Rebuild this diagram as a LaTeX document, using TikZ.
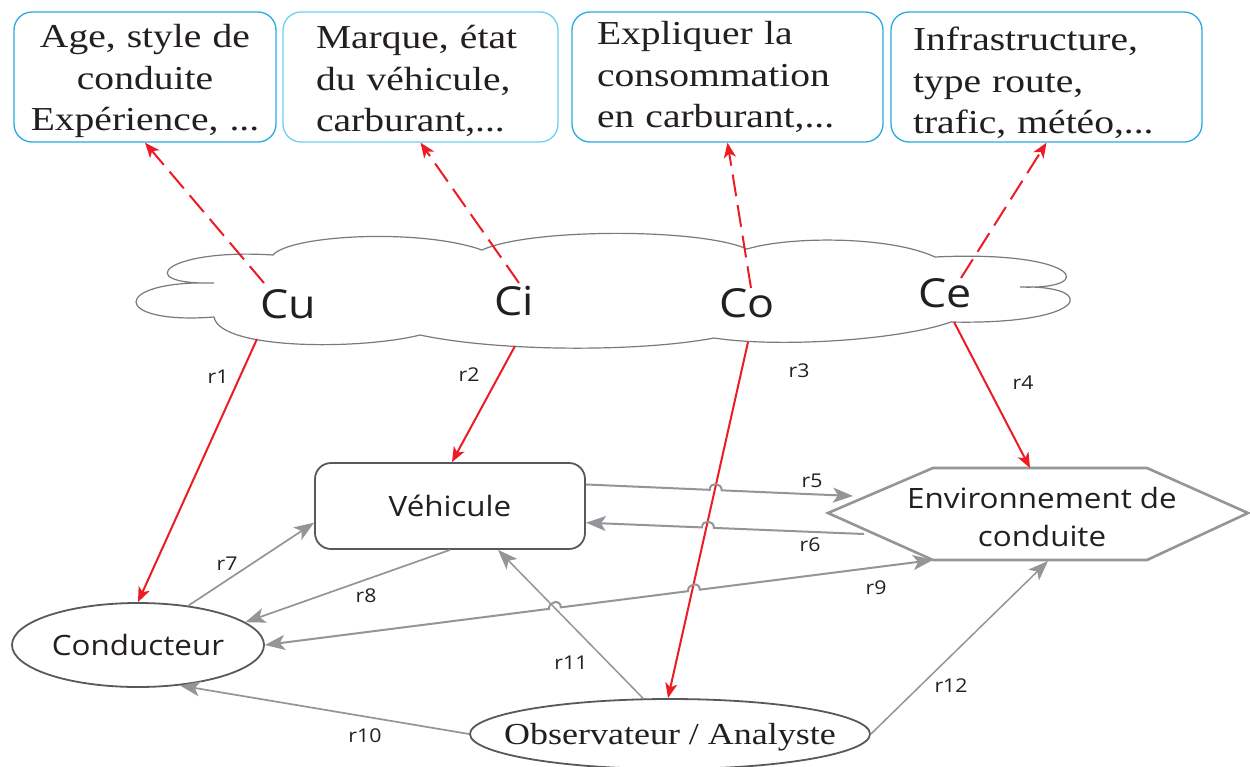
\documentclass[tikz,border=0pt]{standalone}
\usepackage{fontspec}
\setmainfont{Liberation Serif}[FakeStretch=1.18]
\newfontfamily\sansfam{Open Sans}[FakeStretch=1.12]
\usetikzlibrary{arrows.meta,calc,shapes.geometric}
\definecolor{redc}{HTML}{ED1C24}
\definecolor{grayc}{HTML}{939598}
\definecolor{darkc}{HTML}{58595B}
\definecolor{cyanc}{HTML}{29ABE2}
\definecolor{cyanl}{HTML}{6DCFF6}
\definecolor{textc}{HTML}{231F20}
\definecolor{cloudc}{HTML}{7A7A7A}
\newcommand{\topstrut}{\rule{0pt}{32pt}}
\begin{document}
\begin{tikzpicture}[x=1pt,y=-1pt,
  topbox/.style={draw=cyanc,line width=1.3pt,rounded corners=18pt,minimum height=130pt,
    inner sep=0pt,text=textc,font=\fontsize{33.5}{41.5}\selectfont},
  sanstext/.style={text=textc,font=\sansfam\fontsize{28}{38}\selectfont},
  cloudlab/.style={text=textc,font=\sansfam\fontsize{40}{44}\selectfont,inner sep=0pt},
  rlab/.style={text=textc,font=\sansfam\fontsize{19}{22}\selectfont,inner sep=1pt},
  nodeline/.style={draw=darkc,line width=1.8pt},
  cloudline/.style={draw=cloudc,line width=1.2pt},
  hexline/.style={draw=grayc,line width=2.6pt,line join=miter},
  redline/.style={draw=redc,line width=2pt,-{Stealth[length=15pt,width=12pt,inset=4pt]}},
  reddash/.style={redline,dash pattern=on 22pt off 9pt},
  grayline/.style={draw=grayc,line width=2pt,-{Stealth[length=20pt,width=15pt,inset=5pt]}},
  graydouble/.style={draw=grayc,line width=2pt,
    {Stealth[length=20pt,width=15pt,inset=5pt]}-{Stealth[length=20pt,width=15pt,inset=5pt]}}
]
\fill[white] (0,0) rectangle (1250,766);
\useasboundingbox (0,0) rectangle (1250,766);

% top boxes
\node[topbox,minimum width=262pt,text width=250pt,align=center] (b1) at (145,77)
  {\mbox{\topstrut Age, style de}\\\mbox{conduite}\\\mbox{Expérience, ...}};
\node[topbox,draw=cyanl,minimum width=275pt,text width=209pt,align=left] (b2) at (420.5,77)
  {\mbox{\topstrut Marque, état}\\\mbox{du véhicule,}\\\mbox{carburant,...}};
\node[topbox,minimum width=311pt,text width=261pt,align=left] (b3) at (727.5,77)
  {\mbox{Expliquer la}\\\mbox{consommation}\\\mbox{en carburant,...}};
\node[topbox,minimum width=311pt,text width=267pt,align=left] (b4) at (1046.5,77)
  {\mbox{\rule{0pt}{36pt}Infrastructure,}\\\mbox{type route,}\\\mbox{trafic, météo,...}};

% cloud
\draw[cloudline] (214,317) .. controls (110,325) and (110,280) .. (214,283)
  .. controls (130,285) and (165,248) .. (273,255)
  .. controls (290,235) and (420,228) .. (482,250)
  .. controls (530,228) and (700,228) .. (747,249)
  .. controls (790,236) and (890,236) .. (935,257)
  .. controls (1080,250) and (1100,290) .. (1020,287)
  .. controls (1100,285) and (1090,325) .. (951,322)
  .. controls (900,340) and (780,348) .. (714,338)
  .. controls (640,352) and (500,352) .. (420,335)
  .. controls (360,350) and (220,350) .. (214,317) -- cycle;

\node[cloudlab] (Cu) at (288,304) {Cu};
\node[cloudlab] (Ci) at (514,301) {Ci};
\node[cloudlab] (Co) at (747,303) {Co};
\node[cloudlab] (Ce) at (945,293) {Ce};

\coordinate (cuU) at (264,283); \coordinate (cuD) at (257,339);
\coordinate (ciU) at (519,283); \coordinate (ciD) at (515,346);
\coordinate (coU) at (751,288); \coordinate (coD) at (748,342);
\coordinate (ceU) at (961,278); \coordinate (ceD) at (954,322);

% main nodes
\node[nodeline,rounded corners=16pt,minimum width=270pt,minimum height=86pt,sanstext] (veh) at (450,506) {Véhicule};
\node[ellipse,nodeline,minimum width=252pt,minimum height=84pt,inner sep=0pt,
  label={[sanstext,name=condtxt]center:Conducteur}] (cond) at (138,645) {};
\node[ellipse,nodeline,minimum width=400pt,minimum height=70pt,inner sep=0pt,
  label={[text=textc,font=\fontsize{30.5}{34}\selectfont,name=obstxt,yshift=-3pt]center:Observateur / Analyste}] (obs) at (670,734) {};

% hexagon
\coordinate (hL) at (828,513);
\coordinate (hTL) at (933,468);
\coordinate (hTR) at (1147,468);
\coordinate (hR) at (1248,513);
\coordinate (hBR) at (1147,560);
\coordinate (hBL) at (933,560);
\draw[hexline] (hL) -- (hTL) -- (hTR) -- (hR) -- (hBR) -- (hBL) -- cycle;
\node[sanstext,align=center] (env) at (1042,517) {Environnement de\\conduite};
\coordinate (h4) at (1030,468);
\coordinate (h5) at (853,496);
\coordinate (h6) at (864,534);
\coordinate (h12) at (1048,561);

% red dashed arrows to top boxes
\draw[reddash] (cuU) -- (b1.south);
\draw[reddash] (ciU) -- (b2.south);
\draw[reddash] (coU) -- (b3.south);
\draw[reddash] (ceU) -- (b4.south);

% red solid arrows
\draw[redline] (cuD) -- (cond.north);
\draw[redline] (ciD) -- ([xshift=2pt]veh.north);
\draw[redline] (coD) -- ([xshift=-2pt]obs.north);
\draw[redline] (ceD) -- (h4);

% gray connectors
\coordinate (x5) at ($(veh.9)!0.486!(h5)$);
\draw[grayline] (veh.9) -- ($(x5)!6pt!(veh.9)$) .. controls +(0,-8) and +(0,-8) .. ($(x5)!6pt!(h5)$) -- (h5);
\coordinate (x6) at ($(h6)!0.561!(veh.-7)$);
\draw[grayline] (h6) -- ($(x6)!6pt!(h6)$) .. controls +(0,-8) and +(0,-8) .. ($(x6)!6pt!(veh.-7)$) -- (veh.-7);
\draw[grayline,line width=1.7pt] (cond.38) -- (veh.187);
\draw[grayline,line width=1.7pt] (veh.south) -- (cond.12);
\coordinate (x9a) at ($(cond.east)!0.434!(hBL)$);
\coordinate (x9b) at ($(cond.east)!0.642!(hBL)$);
\draw[graydouble] (cond.east) -- ($(x9a)!6pt!(cond.east)$) .. controls +(0,-8) and +(0,-8) .. ($(x9a)!6pt!(hBL)$)
  -- ($(x9b)!6pt!(cond.east)$) .. controls +(0,-8) and +(0,-8) .. ($(x9b)!6pt!(hBL)$) -- (hBL);
\draw[grayline,line width=1.7pt] (obs.west) -- (cond.-44);
\draw[grayline,line width=1.5pt] (obs.127) -- ([xshift=48pt]veh.south);
\draw[grayline,line width=1.5pt] (obs.east) -- (h12);

% labels
\node[rlab] (l1) at (218,377) {r1};
\node[rlab] (l2) at (469,375) {r2};
\node[rlab] (l3) at (799,371) {r3};
\node[rlab] (l4) at (1023,383) {r4};
\node[rlab] (l5) at (812,481) {r5};
\node[rlab] (l6) at (810,545) {r6};
\node[rlab] (l7) at (227,564) {r7};
\node[rlab] (l8) at (366,596) {r8};
\node[rlab] (l9) at (876,588) {r9};
\node[rlab] (l10) at (365,736) {r10};
\node[rlab] (l11) at (571,663) {r11};
\node[rlab] (l12) at (951,686) {r12};
\end{tikzpicture}
\end{document}
